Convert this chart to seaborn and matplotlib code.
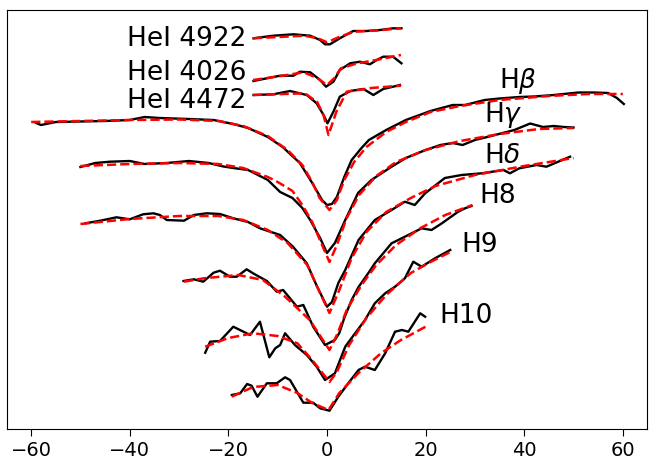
import numpy as np
import pandas as pd
import matplotlib
matplotlib.use("Agg")
import matplotlib.pyplot as plt
import seaborn as sns

# ---------------- data (velocity, offset normalised flux) ----------------
hb_x = [-59, -58, -55, -50, -45, -40, -37, -34, -28, -23, -19, -16, -12, -9, -5.5, -3, -1, 0, 1, 2,
        3.5, 5, 7, 8.5, 12, 16, 21, 25.5, 28, 32, 35, 39, 42, 46, 51, 54, 57, 58.8, 60.2]
hb_y = [3.07, 3.05, 3.08, 3.085, 3.09, 3.10, 3.13, 3.12, 3.11, 3.10, 3.06, 3.02, 2.93, 2.83, 2.67, 2.47,
        2.30, 2.25, 2.26, 2.33, 2.53, 2.70, 2.82, 2.90, 3.00, 3.10, 3.19, 3.25, 3.25, 3.30, 3.315, 3.33,
        3.335, 3.35, 3.375, 3.375, 3.37, 3.32, 3.26]
hb_mx = [-60, -50, -40, -30, -22, -17, -12, -8, -5, -3, -1.5, 0.5, 2, 3.5, 5.5, 8, 12, 16, 21, 27, 35, 45, 53, 60]
hb_my = [3.08, 3.09, 3.10, 3.105, 3.09, 3.04, 2.94, 2.80, 2.65, 2.48, 2.32, 2.20, 2.30, 2.50, 2.68,
         2.83, 2.98, 3.08, 3.18, 3.24, 3.30, 3.34, 3.36, 3.36]

hg_x = [-50, -47, -44, -40, -37, -32.5, -28, -24, -21, -19, -16, -12, -9.5, -7, -5, -3.4, -1.4, 0, 1.6,
        3.7, 6.3, 9, 13, 16, 20, 23, 25.5, 27.5, 30, 32.5, 38, 41.2, 43.8, 46, 48, 50]
hg_y = [2.63, 2.67, 2.683, 2.69, 2.66, 2.67, 2.69, 2.67, 2.635, 2.62, 2.60, 2.50, 2.38, 2.32, 2.22,
        2.10, 1.92, 1.77, 1.87, 2.10, 2.37, 2.50, 2.63, 2.72, 2.80, 2.85, 2.87, 2.85, 2.90, 2.93, 3.00,
        3.065, 3.03, 3.04, 3.03, 3.025]
hg_mx = [-50, -40, -30, -22, -17, -12, -10, -7, -5, -3, -1, 0.5, 2, 4, 6.5, 10, 14, 20, 27, 35, 43, 50]
hg_my = [2.64, 2.66, 2.67, 2.66, 2.62, 2.53, 2.48, 2.39, 2.25, 2.08, 1.85, 1.68, 1.85, 2.12, 2.35,
         2.54, 2.68, 2.80, 2.89, 2.96, 3.01, 3.02]

hd_x = [-49, -46, -42.7, -40, -37.3, -35.2, -33.9, -32.5, -29, -27, -24.4, -21.7, -19, -16, -13.6, -9.5,
        -6.9, -4.1, -2, 0, 1, 2.3, 3.7, 6.4, 9.7, 13.1, 15.8, 17.8, 19.9, 23.9, 27.3, 31.4, 35.8, 37.1,
        39, 42.5, 44.5, 49.3]
hd_y = [2.067, 2.093, 2.127, 2.107, 2.157, 2.167, 2.15, 2.10, 2.093, 2.15, 2.167, 2.16, 2.117, 2.08,
        2.017, 1.95, 1.833, 1.667, 1.433, 1.233, 1.28, 1.47, 1.60, 1.90, 2.10, 2.20, 2.283, 2.25, 2.367,
        2.52, 2.55, 2.567, 2.60, 2.567, 2.617, 2.65, 2.633, 2.733]
hd_mx = [-50, -40, -30, -22, -17, -12, -8, -4, -1.5, 0.5, 2.5, 5, 8, 12, 17, 22, 30, 40, 50]
hd_my = [2.06, 2.11, 2.14, 2.14, 2.10, 2.00, 1.87, 1.65, 1.38, 1.17, 1.40, 1.72, 1.98, 2.18, 2.32,
         2.44, 2.55, 2.64, 2.72]

h8_x = [-29.1, -27, -25.1, -23, -21.7, -19.7, -18.3, -16.3, -15, -12.2, -10.2, -8.9, -6.1, -4.8, -2.8,
        -0.4, 1.6, 2.5, 3.5, 5, 6.4, 8.4, 9.7, 13.1, 15.8, 19.2, 21.2, 23.3, 26.6, 28, 29.3]
h8_y = [1.49, 1.507, 1.483, 1.573, 1.593, 1.533, 1.533, 1.607, 1.567, 1.49, 1.383, 1.40, 1.233, 1.25,
        1.033, 0.85, 0.90, 0.97, 1.12, 1.30, 1.43, 1.57, 1.667, 1.867, 1.933, 2.017, 2.00, 2.067, 2.183,
        2.217, 2.24]
h8_mx = [-29, -25, -18, -13, -8.5, -3.5, 0.5, 2, 4, 7, 10, 14, 19, 24, 29.5]
h8_my = [1.483, 1.517, 1.55, 1.50, 1.333, 1.10, 0.80, 0.95, 1.20, 1.45, 1.65, 1.85, 2.02, 2.15, 2.25]

h9_x = [-24.7, -23.7, -21.7, -19, -15.6, -13.6, -11.7, -10.5, -9.5, -8.5, -6.5, -4.1, -2.1, -0.4, 1.6,
        3.7, 5.7, 7.7, 9.7, 11.8, 13.8, 15.8, 17.5, 19.2, 21.9, 25]
h9_y = [0.773, 0.883, 0.89, 1.033, 0.95, 1.083, 0.727, 0.817, 0.85, 0.967, 0.85, 0.75, 0.633, 0.50,
        0.567, 0.833, 0.967, 1.10, 1.267, 1.367, 1.433, 1.517, 1.683, 1.633, 1.717, 1.80]
h9_mx = [-24.7, -20, -15, -10, -6, -3, 0.5, 2, 4.5, 8, 12, 17, 21, 25]
h9_my = [0.833, 0.92, 0.967, 0.94, 0.867, 0.70, 0.48, 0.58, 0.85, 1.12, 1.35, 1.57, 1.68, 1.78]

h10_x = [-19.3, -17.6, -16.2, -15.3, -14.1, -12.2, -10.2, -8.5, -7.5, -4.8, -2.8, -1.4, 0.5, 2.3, 4.3,
         6.4, 7.7, 9.7, 11.8, 13.8, 15.2, 16.5, 18.9, 19.9]
h10_y = [0.35, 0.367, 0.46, 0.443, 0.333, 0.467, 0.467, 0.527, 0.50, 0.273, 0.273, 0.217, 0.193, 0.333,
         0.467, 0.60, 0.633, 0.60, 0.767, 0.983, 1.00, 0.983, 1.167, 1.133]
h10_mx = [-19.3, -15, -10, -6, -3, 0.3, 2.5, 6.4, 11, 15, 20]
h10_my = [0.333, 0.43, 0.45, 0.37, 0.27, 0.20, 0.37, 0.57, 0.77, 0.90, 1.033]

he4922_x = [-14.9, -10.9, -6.8, -3.4, -1.4, -0.4, 0.6, 2.6, 5.3, 8, 10.8, 13.4, 15.1]
he4922_y = [3.917, 3.943, 3.957, 3.943, 3.90, 3.857, 3.857, 3.917, 3.99, 3.99, 4.00, 4.017, 4.017]
he4922_mx = [-15, -4.7, -2, 0, 2.6, 5.5, 10, 15]
he4922_my = [3.917, 3.943, 3.92, 3.877, 3.933, 3.983, 3.995, 4.017]

he4026_x = [-14.9, -12.2, -9.5, -6.8, -5.5, -3.4, -1.4, -0.2, 1.3, 2.6, 4.7, 6.7, 8.7, 10.1, 11.4, 13.4, 15.1]
he4026_y = [3.49, 3.517, 3.543, 3.543, 3.583, 3.577, 3.50, 3.433, 3.483, 3.60, 3.667, 3.683, 3.657,
            3.70, 3.733, 3.733, 3.667]
he4026_mx = [-15, -10, -4.7, -2, 0, 1.5, 2.8, 6, 10, 15]
he4026_my = [3.50, 3.535, 3.577, 3.52, 3.45, 3.52, 3.617, 3.665, 3.70, 3.75]

he4472_x = [-14.9, -10.9, -7.5, -4.1, -2.1, -0.7, 0.1, 1.3, 2.6, 4.7, 7.4, 9.4, 11.4, 13.4, 14.8]
he4472_y = [3.35, 3.357, 3.39, 3.35, 3.267, 3.15, 3.067, 3.183, 3.333, 3.39, 3.41, 3.35, 3.41, 3.433, 3.45]
he4472_mx = [-15, -4.5, -2, -0.7, 0.3, 1.9, 4, 9, 15]
he4472_my = [3.35, 3.367, 3.28, 3.15, 2.95, 3.183, 3.383, 3.42, 3.443]

left_labels = ["HeI 4922", "HeI 4026", "HeI 4472"]
left_label_x = [-16.3, -16.3, -16.3]
left_label_y = [3.843, 3.50, 3.217]

right_labels = [r"H$\beta$", r"H$\gamma$", r"H$\delta$", "H8", "H9", "H10"]
right_label_x = [34.9, 31.9, 31.9, 31.0, 27.2, 22.8]
right_label_y = [3.417, 3.083, 2.667, 2.267, 1.783, 1.067]

xticks = [-60, -40, -20, 0, 20, 40, 60]

# ---------------- figure ----------------
fig = plt.figure(figsize=(6.49, 4.62), dpi=100)
ax = fig.add_axes([7 / 649, 1 - 429 / 462, 640 / 649, 419 / 462])

series = [
    (hb_x, hb_y, hb_mx, hb_my),
    (hg_x, hg_y, hg_mx, hg_my),
    (hd_x, hd_y, hd_mx, hd_my),
    (h8_x, h8_y, h8_mx, h8_my),
    (h9_x, h9_y, h9_mx, h9_my),
    (h10_x, h10_y, h10_mx, h10_my),
    (he4922_x, he4922_y, he4922_mx, he4922_my),
    (he4026_x, he4026_y, he4026_mx, he4026_my),
    (he4472_x, he4472_y, he4472_mx, he4472_my),
]

for ox, oy, mx, my in series:
    sns.lineplot(x=ox, y=oy, ax=ax, color="black", lw=1.7, sort=False, estimator=None)
    sns.lineplot(x=mx, y=my, ax=ax, color="red", lw=1.8, linestyle="--", sort=False, estimator=None)

for t, x, y in zip(left_labels, left_label_x, left_label_y):
    ax.text(x, y, t, ha="right", va="baseline", fontsize=19)
for t, x, y in zip(right_labels, right_label_x, right_label_y):
    ax.text(x, y, t, ha="left", va="baseline", fontsize=19)

ax.set_xlim(-64.9, 64.9)
ax.set_ylim(0.01, 4.20)
ax.set_xticks(xticks)
ax.set_yticks([])
ax.tick_params(axis="x", labelsize=14, length=5)
ax.set_xlabel("")
ax.set_ylabel("")

fig.savefig("out.png", dpi=100)
